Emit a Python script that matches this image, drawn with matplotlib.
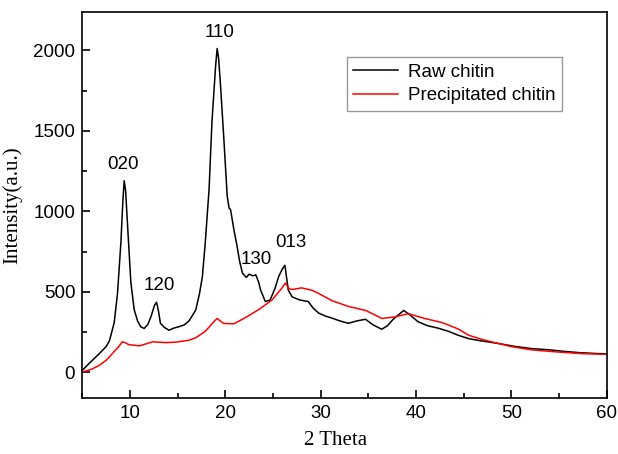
import matplotlib.pyplot as plt
from matplotlib.ticker import MultipleLocator

# Raw chitin
raw_x = [5.0, 5.8, 6.8, 7.5, 7.85, 8.36, 8.7, 9.06, 9.25, 9.4, 9.55, 9.75, 10.1,
         10.45, 10.8, 11.15, 11.5, 11.9, 12.2, 12.6, 12.8, 13.0, 13.2, 13.6, 14.1,
         14.6, 15.2, 15.7, 16.2, 16.9, 17.3, 17.6, 17.9, 18.3, 18.6, 18.99, 19.15,
         19.3, 19.5, 19.85, 20.2, 20.4, 20.55, 20.9, 21.24, 21.5, 21.8, 22.2, 22.5,
         22.9, 23.2, 23.5, 23.7, 24.2, 24.7, 25.2, 25.6, 26.0, 26.25, 26.6, 27.0,
         27.3, 27.8, 28.7, 29.2, 29.8, 30.5, 31.2, 32.0, 32.9, 33.8, 34.7, 35.5,
         36.4, 37.0, 37.6, 38.2, 38.7, 39.3, 40.2, 41.2, 42.3, 43.4, 44.4, 45.5,
         46.9, 48.6, 50.3, 52.1, 54.0, 55.6, 57.3, 59.0, 60.0]
raw_y = [12, 60, 117, 160, 195, 310, 490, 810, 1050, 1190, 1130, 920, 560,
         390, 320, 283, 273, 300, 345, 420, 435, 380, 305, 280, 262,
         275, 285, 295, 320, 387, 490, 596, 805, 1137, 1554, 1908, 2012,
         1950, 1783, 1450, 1096, 1020, 1012, 887, 783, 690, 617, 590, 610,
         600, 606, 560, 512, 440, 450, 520, 596, 645, 665, 512, 470,
         462, 450, 440, 400, 368, 350, 337, 320, 305, 320, 330, 295,
         268, 290, 330, 360, 385, 360, 315, 290, 275, 255, 231, 210,
         195, 180, 162, 148, 140, 130, 122, 117, 115]

# Precipitated chitin
pre_x = [5.0, 6.0, 6.8, 7.5, 7.85, 8.5, 8.7, 9.2, 9.5, 9.9, 11.0, 12.4, 13.8,
         14.8, 16.2, 16.9, 17.9, 18.8, 19.15, 19.5, 19.85, 20.9, 22.1, 23.5,
         24.9, 25.95, 26.3, 26.7, 27.0, 28.0, 29.1, 29.8, 31.2, 32.9, 34.7,
         36.1, 36.4, 37.8, 39.2, 40.9, 42.7, 43.4, 44.4, 45.5, 46.9, 47.9,
         50.0, 52.1, 54.8, 57.3, 60.0]
pre_y = [2, 20, 44, 75, 96, 140, 150, 190, 185, 172, 165, 190, 185,
         188, 200, 215, 255, 315, 335, 318, 304, 302, 340, 390,
         450, 525, 555, 520, 515, 525, 510, 490, 445, 410, 385,
         345, 335, 345, 365, 335, 310, 294, 270, 231, 205, 190,
         160, 140, 127, 117, 112]

peak_labels = ["020", "120", "110", "130", "013"]
peak_x = [9.3, 13.1, 19.4, 23.2, 26.9]
peak_y = [1294, 540, 2112, 700, 808]

sans = "Liberation Sans"
serif = "Liberation Serif"

fig = plt.figure(figsize=(6.18, 4.54), dpi=100)
ax = fig.add_axes([0.133, 0.123, 0.849, 0.851])

ax.plot(raw_x, raw_y, color="black", lw=1.1, label="Raw chitin")
ax.plot(pre_x, pre_y, color="red", lw=1.1, label="Precipitated chitin")

for lab, px, py in zip(peak_labels, peak_x, peak_y):
    ax.text(px, py, lab, ha="center", va="center", fontsize=13.5, family=sans)

ax.set_xlim(5, 60)
ax.set_ylim(-160, 2240)
ax.xaxis.set_major_locator(MultipleLocator(10))
ax.xaxis.set_minor_locator(MultipleLocator(5))
ax.yaxis.set_major_locator(MultipleLocator(500))
ax.yaxis.set_minor_locator(MultipleLocator(250))
ax.tick_params(which="both", direction="in", top=False, right=False, width=1.2)
ax.tick_params(which="major", length=6, labelsize=13.5, pad=5)
ax.tick_params(which="minor", length=3.5)
for lbl in ax.get_xticklabels() + ax.get_yticklabels():
    lbl.set_family(sans)
for sp in ax.spines.values():
    sp.set_linewidth(1.2)

ax.set_xlabel("2 Theta", family=serif, fontsize=15, labelpad=6)
ax.xaxis.set_label_coords(0.483, -0.085)
ax.set_ylabel("Intensity(a.u.)", family=serif, fontsize=15, labelpad=8)

leg = ax.legend(loc="upper left", bbox_to_anchor=(0.504, 0.883), borderaxespad=0,
                fancybox=False, edgecolor="gray", handlelength=2.4,
                handletextpad=0.5, labelspacing=0.35, borderpad=0.35,
                prop={"family": sans, "size": 13.5})
leg.get_frame().set_linewidth(1.0)

fig.savefig("out.png", dpi=100)
